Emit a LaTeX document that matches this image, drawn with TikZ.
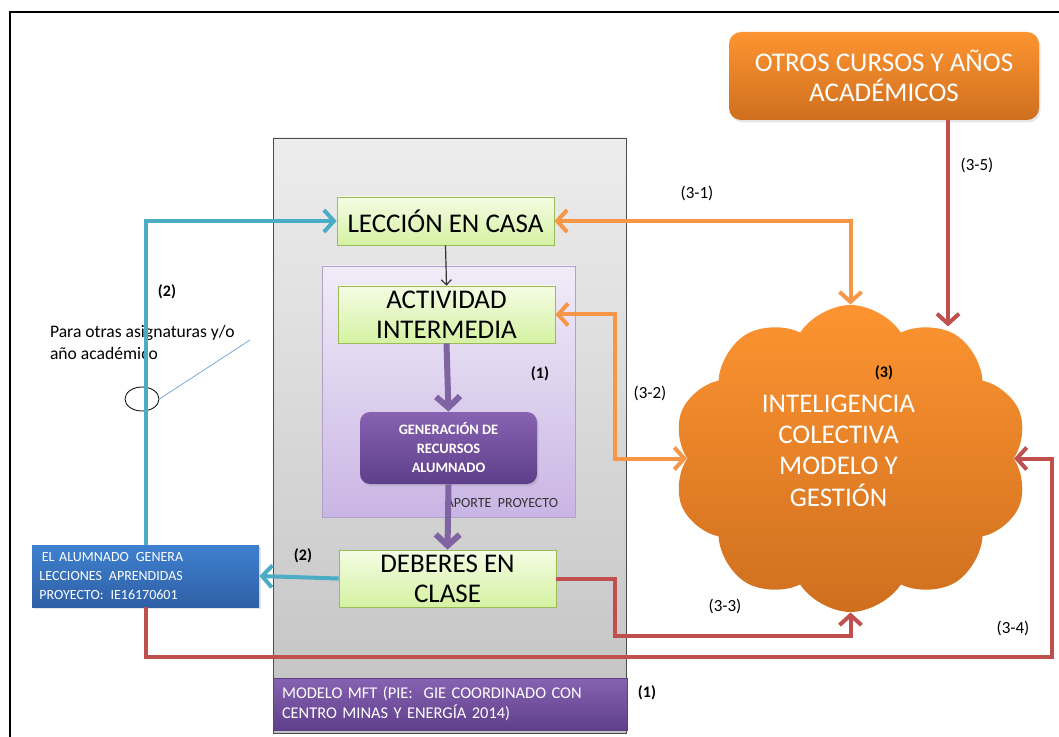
\documentclass[tikz,border=0pt]{standalone}
\usepackage{fontspec}
\setmainfont{Carlito}
\usetikzlibrary{arrows.meta, shapes.symbols, shapes.geometric, calc, shadows}

\definecolor{lineorange}{HTML}{F79646}
\definecolor{linered}{HTML}{C0504D}
\definecolor{lineblue}{HTML}{4BACC6}
\definecolor{linepurple}{HTML}{8064A2}
\definecolor{lineguide}{HTML}{7DA7D9}
\definecolor{greenedge}{HTML}{9BBB59}
\definecolor{greentop}{HTML}{F4FCE4}
\definecolor{greenbot}{HTML}{D5F2A2}
\definecolor{lilatop}{HTML}{F1ECF8}
\definecolor{lilabot}{HTML}{C9B5E4}
\definecolor{lilaedge}{HTML}{B2A1C7}
\definecolor{moradotop}{HTML}{8762B1}
\definecolor{moradobot}{HTML}{5E3F8A}
\definecolor{azultop}{HTML}{3E80CF}
\definecolor{azulbot}{HTML}{2F60A6}
\definecolor{naranjatop}{HTML}{FD9431}
\definecolor{naranjabot}{HTML}{CF6F1E}
\definecolor{gristop}{HTML}{EDEDED}
\definecolor{grisbot}{HTML}{C2C2C2}

\tikzset{
  paso/.style={draw=greenedge, top color=greentop, bottom color=greenbot,
    minimum width=108.5pt, align=center, inner sep=1pt,
    font=\fontsize{13.5}{15}\selectfont},
  flecha/.style={line width=2pt, -{Straight Barb[length=5pt,width=11pt]}},
  doble/.style={line width=2pt,
    {Straight Barb[length=5pt,width=11pt]}-{Straight Barb[length=5pt,width=11pt]}},
  gruesa/.style={line width=3pt, draw=linepurple, -{Straight Barb[length=5.5pt,width=12pt]}},
  sombra/.style={drop shadow={opacity=0.2, shadow xshift=0.8pt, shadow yshift=-1.2pt}},
  etiqueta/.style={font=\fontsize{8.5}{10}\selectfont},
  marca/.style={font=\bfseries\fontsize{8}{10}\selectfont},
}

\begin{document}
\begin{tikzpicture}[x=0.5pt, y=-0.5pt]
        \useasboundingbox (0,0) rectangle (1059,737);
        \draw[line width=1.1pt] (10,737) -- (10,12) -- (1059,12);

        \coordinate (c32) at (615,0);
        \coordinate (c33) at (615,636);
        \coordinate (c34) at (1052,657);
        \coordinate (pointer) at (250,340);

        \draw[draw=black!70, top color=gristop, bottom color=grisbot] (273,138) rectangle (626,733);
        \draw[draw=lilaedge, top color=lilatop, bottom color=lilabot] (322,266) rectangle (575,517);
        \node[draw=moradobot, top color=moradotop, bottom color=moradobot, minimum width=177pt,
              minimum height=26pt, text=white, text width=168pt, align=left,
              font=\fontsize{8.2}{10}\selectfont] (modelo) at (450,704)
              {MODELO MFT (PIE:~ GIE COORDINADO CON\\CENTRO MINAS Y ENERGÍA 2014)};

        \node[paso, minimum height=24pt] (leccion) at (445.5,221) {LECCIÓN EN CASA};
        \node[paso, minimum height=28.5pt] (actividad) at (446.5,314.5) {ACTIVIDAD\\INTERMEDIA};
        \node[paso, minimum height=28.5pt] (deberes) at (447.5,578.5) {DEBERES EN\\CLASE};
        \node[rounded corners=5pt, top color=moradotop, bottom color=moradobot, minimum width=88.5pt,
              minimum height=36pt, text=white, align=center, sombra,
              font=\bfseries\fontsize{7.2}{9.5}\selectfont] (generacion) at (448.5,448)
              {GENERACIÓN DE\\RECURSOS\\ALUMNADO};
        \node[top color=azultop, bottom color=azulbot, minimum width=113.5pt, minimum height=31pt,
              text=white, text width=106pt, align=left, sombra,
              font=\fontsize{7}{9.5}\selectfont] (alumnado) at (145.5,576)
              {\,EL ALUMNADO\, GENERA\\LECCIONES\, APRENDIDAS\\PROYECTO:\, IE16170601};
        \node[rounded corners=6pt, top color=naranjatop, bottom color=naranjabot, minimum width=155pt,
              minimum height=44pt, text=white, align=center, sombra,
              font=\fontsize{13.5}{15}\selectfont] (otros) at (884,76)
              {OTROS CURSOS Y AÑOS\\ACADÉMICOS};
        \node[cloud, cloud puffs=10, cloud puff arc=115, aspect=1.15, minimum width=177.5pt,
              minimum height=153.5pt, top color=naranjatop, bottom color=naranjabot, text=white,
              inner sep=0pt, font=\fontsize{13.5}{15.5}\selectfont] (inteligencia) at (850.5,458.5)
              {\raisebox{-0.8pt}[0pt][0pt]{\makebox[0pt]{\begin{tabular}{@{}c@{}}INTELIGENCIA\\COLECTIVA\\MODELO Y\\GESTIÓN\end{tabular}\kern12pt}}};
        \node[draw, ellipse, minimum width=17pt, minimum height=12pt, inner sep=0pt] (ring) at (142,399) {};

        \coordinate (c35) at ($(otros.south)+(64,0)$);

        \node[font=\fontsize{7}{8}\selectfont, text=black!80] (aporte) at (502,503) {APORTE~ PROYECTO};
        \node[anchor=north west, align=left, font=\fontsize{8.8}{11}\selectfont] (nota) at (43,318)
              {Para otras asignaturas y/o\\año académico};
        \node[etiqueta] (l31) at (697,193) {(3-1)};
        \node[etiqueta] (l32) at (650,393) {(3-2)};
        \node[etiqueta] (l33) at (725,606) {(3-3)};
        \node[etiqueta] (l34) at (1013,628) {(3-4)};
        \node[etiqueta] (l35) at (977,165) {(3-5)};
        \node[marca] (m2a) at (167,292) {(2)};
        \node[marca] (m2b) at (303,556) {(2)};
        \node[marca] (m1a) at (540,374) {(1)};
        \node[marca] (m1b) at (647,693) {(1)};
        \node[marca] (m3) at (884,373) {(3)};

        \draw[black!80, line width=0.6pt, -{Straight Barb[length=2.5pt,width=5pt]}] (leccion.south) -- (actividad.north);
        \draw[gruesa] (actividad.south) -- (generacion.north);
        \draw[gruesa] (generacion.south) -- (deberes.north);

        \draw[flecha, lineblue] (deberes.west) -- (alumnado.east);
        \draw[flecha, lineblue] (alumnado.north) |- (leccion.west);
        \draw[lineguide, line width=0.4pt] (ring.east) -- (pointer);

        \draw[doble, lineorange] (leccion.east) -| (inteligencia.north);
        \draw[doble, lineorange] (actividad.east) -| (c32 |- inteligencia.west) -- (inteligencia.west);

        \draw[flecha, linered] (deberes.east) -| (c33) -| (inteligencia.south);
        \draw[flecha, linered] (alumnado.south) |- (c34) |- (inteligencia.east);
        \draw[flecha, linered] (c35) -- (c35 |- inteligencia.62);
\end{tikzpicture}
\end{document}
